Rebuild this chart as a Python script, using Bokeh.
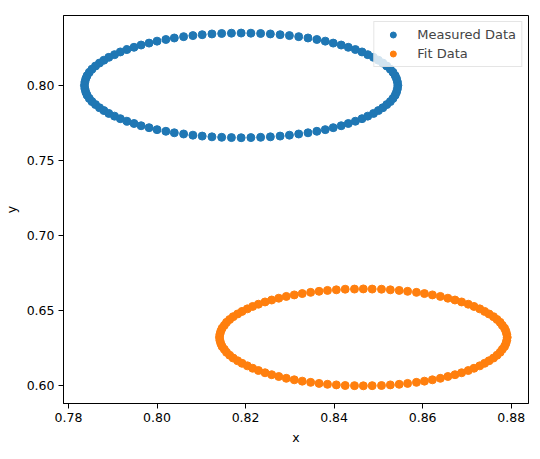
from bokeh.plotting import figure
from bokeh.models import Range1d, FixedTicker, NumeralTickFormatter
from bokeh.embed import file_html
from bokeh.resources import INLINE

# Measured Data (blue)
measured_x = [
    0.8544, 0.8543, 0.8541, 0.8538, 0.8533, 0.8527, 0.8519, 0.8510, 0.8500, 0.8489,
    0.8476, 0.8463, 0.8448, 0.8432, 0.8416, 0.8398, 0.8380, 0.8361, 0.8341, 0.8320,
    0.8299, 0.8278, 0.8256, 0.8234, 0.8212, 0.8190,
    0.8168, 0.8146, 0.8124, 0.8102, 0.8081, 0.8060, 0.8039, 0.8020, 0.8000, 0.7982,
    0.7964, 0.7948, 0.7932, 0.7917, 0.7904, 0.7891, 0.7880, 0.7870, 0.7861, 0.7853,
    0.7847, 0.7842, 0.7839, 0.7837, 0.7836,
    0.7837, 0.7839, 0.7842, 0.7847, 0.7853, 0.7861, 0.7870, 0.7880, 0.7891, 0.7904,
    0.7917, 0.7932, 0.7948, 0.7964, 0.7982, 0.8000, 0.8020, 0.8039, 0.8060, 0.8081,
    0.8102, 0.8124, 0.8146, 0.8168, 0.8190,
    0.8212, 0.8234, 0.8256, 0.8278, 0.8299, 0.8320, 0.8341, 0.8361, 0.8380, 0.8398,
    0.8416, 0.8432, 0.8448, 0.8463, 0.8476, 0.8489, 0.8500, 0.8510, 0.8519, 0.8527,
    0.8533, 0.8538, 0.8541, 0.8543,
]
measured_y = [
    0.7999, 0.8021, 0.8043, 0.8064, 0.8086, 0.8107, 0.8128, 0.8148, 0.8167, 0.8186,
    0.8204, 0.8222, 0.8238, 0.8253, 0.8268, 0.8281, 0.8294, 0.8305, 0.8315, 0.8324,
    0.8331, 0.8337, 0.8342, 0.8345, 0.8347, 0.8348,
    0.8347, 0.8345, 0.8342, 0.8337, 0.8331, 0.8324, 0.8315, 0.8305, 0.8294, 0.8281,
    0.8268, 0.8253, 0.8238, 0.8222, 0.8204, 0.8186, 0.8167, 0.8148, 0.8128, 0.8107,
    0.8086, 0.8064, 0.8043, 0.8021, 0.7999,
    0.7977, 0.7955, 0.7934, 0.7912, 0.7891, 0.7871, 0.7850, 0.7831, 0.7812, 0.7794,
    0.7777, 0.7760, 0.7745, 0.7730, 0.7717, 0.7704, 0.7693, 0.7683, 0.7675, 0.7667,
    0.7661, 0.7656, 0.7653, 0.7651, 0.7650,
    0.7651, 0.7653, 0.7656, 0.7661, 0.7667, 0.7675, 0.7683, 0.7693, 0.7704, 0.7717,
    0.7730, 0.7745, 0.7760, 0.7777, 0.7794, 0.7812, 0.7831, 0.7850, 0.7871, 0.7891,
    0.7912, 0.7934, 0.7955, 0.7977,
]

# Fit Data (orange)
fit_x = [
    0.8791, 0.8790, 0.8788, 0.8785, 0.8780, 0.8775, 0.8768, 0.8760, 0.8750, 0.8740,
    0.8729, 0.8716, 0.8703, 0.8688, 0.8673, 0.8657, 0.8640, 0.8622, 0.8604, 0.8586,
    0.8566, 0.8547, 0.8527, 0.8507, 0.8486, 0.8466,
    0.8446, 0.8425, 0.8405, 0.8385, 0.8366, 0.8347, 0.8328, 0.8310, 0.8292, 0.8275,
    0.8259, 0.8244, 0.8229, 0.8216, 0.8204, 0.8192, 0.8182, 0.8172, 0.8164, 0.8157,
    0.8152, 0.8147, 0.8144, 0.8142, 0.8141,
    0.8142, 0.8144, 0.8147, 0.8152, 0.8157, 0.8164, 0.8172, 0.8182, 0.8192, 0.8204,
    0.8216, 0.8229, 0.8244, 0.8259, 0.8275, 0.8292, 0.8310, 0.8328, 0.8347, 0.8366,
    0.8385, 0.8405, 0.8425, 0.8446, 0.8466,
    0.8486, 0.8507, 0.8527, 0.8547, 0.8566, 0.8586, 0.8604, 0.8622, 0.8640, 0.8657,
    0.8673, 0.8688, 0.8703, 0.8716, 0.8729, 0.8740, 0.8750, 0.8760, 0.8768, 0.8775,
    0.8780, 0.8785, 0.8788, 0.8790,
]
fit_y = [
    0.6319, 0.6339, 0.6360, 0.6380, 0.6399, 0.6419, 0.6438, 0.6457, 0.6475, 0.6492,
    0.6509, 0.6525, 0.6540, 0.6555, 0.6568, 0.6580, 0.6592, 0.6602, 0.6611, 0.6619,
    0.6626, 0.6632, 0.6636, 0.6640, 0.6641, 0.6642,
    0.6641, 0.6640, 0.6636, 0.6632, 0.6626, 0.6619, 0.6611, 0.6602, 0.6592, 0.6580,
    0.6568, 0.6555, 0.6540, 0.6525, 0.6509, 0.6492, 0.6475, 0.6457, 0.6438, 0.6419,
    0.6399, 0.6380, 0.6360, 0.6339, 0.6319,
    0.6299, 0.6278, 0.6258, 0.6239, 0.6219, 0.6200, 0.6181, 0.6163, 0.6146, 0.6129,
    0.6113, 0.6098, 0.6083, 0.6070, 0.6058, 0.6046, 0.6036, 0.6027, 0.6019, 0.6012,
    0.6006, 0.6002, 0.5998, 0.5997, 0.5996,
    0.5997, 0.5998, 0.6002, 0.6006, 0.6012, 0.6019, 0.6027, 0.6036, 0.6046, 0.6058,
    0.6070, 0.6083, 0.6098, 0.6113, 0.6129, 0.6146, 0.6163, 0.6181, 0.6200, 0.6219,
    0.6239, 0.6258, 0.6278, 0.6299,
]

x_ticks = [0.78, 0.80, 0.82, 0.84, 0.86, 0.88]
y_ticks = [0.60, 0.65, 0.70, 0.75, 0.80]

FONT = "DejaVu Sans"
FS = "12.5px"

p = figure(
    frame_width=465, frame_height=388,
    output_backend="svg", toolbar_location=None,
    x_range=Range1d(0.77887, 0.88391),
    y_range=Range1d(0.5878, 0.8465),
    min_border_left=63, min_border_right=11, min_border_top=15, min_border_bottom=55,
    x_axis_label="x", y_axis_label="y",
)
p.grid.visible = False
p.outline_line_color = "black"
p.outline_line_width = 1
p.background_fill_color = "white"
p.border_fill_color = "white"

p.scatter(measured_x, measured_y, size=8, color="#1f77b4", line_color="#1f77b4",
          legend_label="Measured Data")
p.scatter(fit_x, fit_y, size=8, color="#ff7f0e", line_color="#ff7f0e",
          legend_label="Fit Data")

p.xaxis.ticker = FixedTicker(ticks=x_ticks)
p.yaxis.ticker = FixedTicker(ticks=y_ticks)
for ax in (p.xaxis[0], p.yaxis[0]):
    ax.formatter = NumeralTickFormatter(format="0.00")
    ax.major_label_text_font = FONT
    ax.major_label_text_font_size = FS
    ax.major_label_text_color = "black"
    ax.axis_label_text_font = FONT
    ax.axis_label_text_font_size = FS
    ax.axis_label_text_font_style = "normal"
    ax.axis_label_text_color = "black"
    ax.axis_line_color = "black"
    ax.major_tick_line_color = "black"
    ax.major_tick_out = 5
    ax.major_tick_in = 0
    ax.minor_tick_line_color = None
    ax.major_label_standoff = 4
p.yaxis.major_label_orientation = "horizontal"

leg = p.legend[0]
leg.location = "top_right"
leg.margin = 6
leg.padding = 5
leg.spacing = 4
leg.glyph_height = 15
leg.glyph_width = 27
leg.label_standoff = 11
leg.label_text_font = FONT
leg.label_text_font_size = "13px"
leg.label_height = 15
leg.border_line_color = "#cccccc"
leg.background_fill_alpha = 0.8

open("out.html", "w").write(file_html(p, INLINE))
